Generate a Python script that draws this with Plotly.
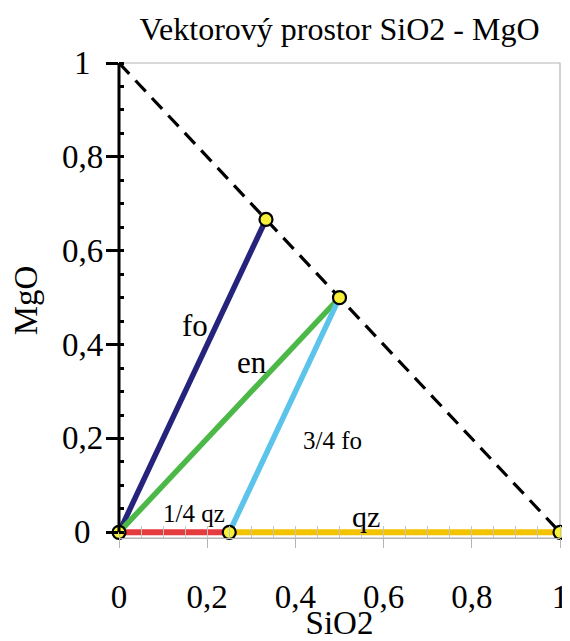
import plotly.graph_objects as go

# ---- data ----
dash_x = [0, 1]
dash_y = [1, 0]
fo_x = [0, 1/3]
fo_y = [0, 2/3]
en_x = [0, 0.5]
en_y = [0, 0.5]
fo34_x = [0.25, 0.5]
fo34_y = [0, 0.5]
qz14_x = [0, 0.25]
qz14_y = [0, 0]
qz_x = [0.25, 1]
qz_y = [0, 0]
pts_x = [0, 0.25, 1, 1/3, 0.5]
pts_y = [0, 0, 0, 2/3, 0.5]

tick_vals = [0, 0.2, 0.4, 0.6, 0.8, 1]
tick_text = ["0", "0,2", "0,4", "0,6", "0,8", "1"]

label_text = ["fo", "en", "3/4 fo", "1/4 qz", "qz"]
label_x = [0.172, 0.302, 0.485, 0.170, 0.56]
label_y = [0.441, 0.362, 0.196, 0.040, 0.034]
label_size = [31, 31, 25, 25, 30]

FONT = "Liberation Serif, Times New Roman, serif"

# the page body has an 8px margin, so the figure is drawn 8px smaller
W, H = 562, 633
Y_LOW = -0.012  # small pad so the baseline lines are not clipped
PLOT_H = 469 * (1 - Y_LOW)
M_L, M_T, M_R = 111, 55, 10

fig = go.Figure()
fig.add_trace(go.Scatter(x=dash_x, y=dash_y, mode="lines",
                         line=dict(color="black", width=3.2, dash="15px,9px"),
                         showlegend=False))
fig.add_trace(go.Scatter(x=fo_x, y=fo_y, mode="lines",
                         line=dict(color="#26237c", width=5.5), showlegend=False))
fig.add_trace(go.Scatter(x=en_x, y=en_y, mode="lines",
                         line=dict(color="#4cb847", width=5.5), showlegend=False))
fig.add_trace(go.Scatter(x=fo34_x, y=fo34_y, mode="lines",
                         line=dict(color="#5cc3ea", width=5.5), showlegend=False))
fig.add_trace(go.Scatter(x=qz14_x, y=qz14_y, mode="lines",
                         line=dict(color="#e53a3e", width=6), showlegend=False))
fig.add_trace(go.Scatter(x=qz_x, y=qz_y, mode="lines",
                         line=dict(color="#f3c300", width=6), showlegend=False))
fig.add_trace(go.Scatter(x=pts_x, y=pts_y, mode="markers",
                         marker=dict(size=13, color="#f7f03a",
                                     line=dict(color="black", width=2.2)),
                         cliponaxis=False, showlegend=False))

annotations = []
for t, x, y, s in zip(label_text, label_x, label_y, label_size):
    annotations.append(dict(x=x, y=y, xref="x", yref="y", text=t, showarrow=False,
                            font=dict(family=FONT, size=s, color="black")))
# y tick labels, centred as in the reference
for v, t in zip(tick_vals, tick_text):
    annotations.append(dict(x=-0.083, y=v, xref="paper", yref="y", text=t,
                            showarrow=False, xanchor="center", yanchor="middle",
                            font=dict(family=FONT, size=33, color="black")))

fig.update_layout(
    width=W, height=H,
    margin=dict(l=M_L, r=M_R, t=M_T, b=H - M_T - PLOT_H, autoexpand=False),
    paper_bgcolor="white", plot_bgcolor="white",
    title=dict(text="Vektorový prostor SiO2 - MgO", x=0.5, xref="paper",
               xanchor="center", y=1 - 21/H, yref="container", yanchor="middle",
               font=dict(family=FONT, size=32, color="black")),
    annotations=annotations,
    shapes=[dict(type="rect", xref="x domain", yref="y domain", x0=0, x1=1, y0=0, y1=1,
                 line=dict(color="#b4b4b4", width=1.2), layer="below")],
    xaxis=dict(range=[0, 1], tickvals=tick_vals, ticktext=tick_text, automargin=False,
               showgrid=False, zeroline=False, showline=True, linecolor="#b4b4b4",
               linewidth=1, ticks="outside", ticklen=9, tickcolor="#b4b4b4",
               tickwidth=1.2, ticklabelstandoff=20,
               minor=dict(dtick=0.05, ticks="inside", ticklen=12, tickcolor="#c4c4c4",
                          tickwidth=1),
               tickfont=dict(family=FONT, size=33, color="black"),
               title=dict(text="SiO2", standoff=2,
                          font=dict(family=FONT, size=33, color="black"))),
    yaxis=dict(range=[Y_LOW, 1], tickvals=tick_vals, showticklabels=False, automargin=False,
               showgrid=False, zeroline=False, showline=False,
               ticks="outside", ticklen=12, tickcolor="black",
               tickwidth=2.5,
               minor=dict(tick0=0, dtick=0.05, ticks="inside", ticklen=5, tickcolor="black",
                          tickwidth=2.5),
               title=dict(text="MgO", standoff=59,
                          font=dict(family=FONT, size=33, color="black"))),
)
# black y axis line from 0 to 1 (the reference's vertical axis)
fig.add_shape(type="line", xref="x domain", yref="y", x0=0, x1=0, y0=0, y1=1,
              line=dict(color="black", width=3))

fig.write_html("out.html")
